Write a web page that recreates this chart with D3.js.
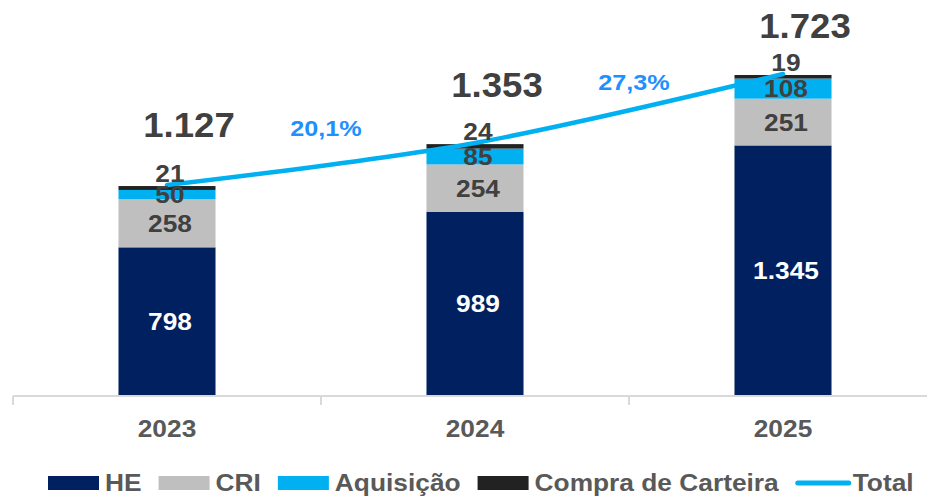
<!DOCTYPE html>
<html>
<head>
<meta charset="utf-8">
<script src="https://cdn.jsdelivr.net/npm/d3@7"></script>
<style>
  body { margin: 0; background: #fff; }
  text { font-family: "Liberation Sans", Arial, sans-serif; font-weight: bold; }
</style>
</head>
<body>
<svg id="chart"></svg>
<script>
// data
const years = ["2023", "2024", "2025"];
const he = [798, 989, 1345];
const cri = [258, 254, 251];
const aquisicao = [50, 85, 108];
const compra = [21, 24, 19];
const totals = [1127, 1353, 1723];
const growth = ["20,1%", "27,3%"];

const seriesNames = ["HE", "CRI", "Aquisição", "Compra de Carteira"];
const seriesValues = [he, cri, aquisicao, compra];
const colors = ["#002060", "#bfbfbf", "#00b0f0", "#222222"];
const lineColor = "#00b0f0";

const W = 927, H = 497;
const SX = 1.12; // text in the source is a bit wide
const svg = d3.select("#chart").attr("width", W).attr("height", H);

const fmt = d3.formatLocale({ decimal: ",", thousands: ".", grouping: [3], currency: ["R$", ""] }).format(",d");

const x = d3.scaleBand().domain(years).range([13, 937]);
const y = d3.scaleLinear().domain([0, 2000]).range([396, 23.4]);
const barW = x.bandwidth() * 0.315;
const cx = d => x(d) + x.bandwidth() / 2;

// stretched text helper
function label(g, tx, ty, str, size, fill, sx, anchor) {
  return g.append("text")
    .attr("transform", `translate(${tx},${ty}) scale(${sx},1)`)
    .attr("text-anchor", anchor || "middle")
    .attr("font-size", size)
    .attr("fill", fill)
    .text(str);
}

// stack table
const table = years.map((yr, i) => {
  const row = { year: yr };
  seriesNames.forEach((s, j) => row[s] = seriesValues[j][i]);
  return row;
});
const stacked = d3.stack().keys(seriesNames)(table);

// bars
stacked.forEach((layer, j) => {
  svg.append("g").selectAll("rect")
    .data(layer)
    .enter()
    .append("rect")
    .attr("x", d => cx(d.data.year) - barW / 2)
    .attr("y", d => y(d[1]))
    .attr("width", barW)
    .attr("height", d => y(d[0]) - y(d[1]))
    .attr("fill", colors[j]);
});

// axis
const axis = svg.append("g").attr("transform", "translate(0,396)")
  .call(d3.axisBottom(x).tickSize(0).tickFormat(""));
axis.select(".domain").attr("stroke", "#d9d9d9").attr("stroke-width", 2).attr("d", "M13,0H927");
axis.selectAll(".tick").remove();
years.forEach(yr => {
  axis.append("line").attr("x1", x(yr)).attr("x2", x(yr)).attr("y1", 0).attr("y2", 9)
    .attr("stroke", "#d9d9d9").attr("stroke-width", 2);
});
const yearG = svg.append("g");
years.forEach(yr => label(yearG, cx(yr), 437, yr, 23.5, "#595959", SX));

// total line
const line = d3.line()
  .x((d, i) => cx(years[i]))
  .y(d => y(d) - 1)
  .curve(d3.curveCardinal);
svg.append("path")
  .datum(totals)
  .attr("d", line)
  .attr("fill", "none")
  .attr("stroke", lineColor)
  .attr("stroke-width", 4.5)
  .attr("stroke-linecap", "round");

// segment labels
const segG = svg.append("g");
stacked.forEach((layer, j) => {
  layer.forEach(d => {
    const ty = j === 3 ? y(d[1]) - 4 : (y(d[0]) + y(d[1])) / 2 + 8.5;
    label(segG, cx(d.data.year) + 3, ty, fmt(d[1] - d[0]), 23.5, j === 0 ? "#ffffff" : "#404040", SX);
  });
});

// totals
const totalDy = [49, 47, 37];
const totG = svg.append("g");
totals.forEach((t, i) => label(totG, cx(years[i]) + 22, y(t) - totalDy[i], fmt(t), 35.5, "#404040", 1.03));

// growth labels
const growthDy = [29, 19];
const grG = svg.append("g");
growth.forEach((g, i) => {
  label(grG, x(years[i + 1]) + 5, y((totals[i] + totals[i + 1]) / 2) - growthDy[i], g, 22.5, "#1e90ff", SX);
});

// legend
const legend = svg.append("g");
let lx = 48;
const items = seriesNames.map((s, j) => ({ name: s, color: colors[j], type: "rect" }))
  .concat([{ name: "Total", color: lineColor, type: "line" }]);
items.forEach(it => {
  if (it.type === "rect") {
    legend.append("rect").attr("x", lx).attr("y", 476).attr("width", 51).attr("height", 14).attr("fill", it.color);
  } else {
    legend.append("line").attr("x1", lx + 2).attr("x2", lx + 53).attr("y1", 483).attr("y2", 483)
      .attr("stroke", it.color).attr("stroke-width", 5).attr("stroke-linecap", "round");
  }
  const t = label(legend, lx + 57, 491, it.name, 23.5, "#595959", SX, "start");
  lx += 57 + t.node().getComputedTextLength() * SX + 17;
});
</script>
</body>
</html>
